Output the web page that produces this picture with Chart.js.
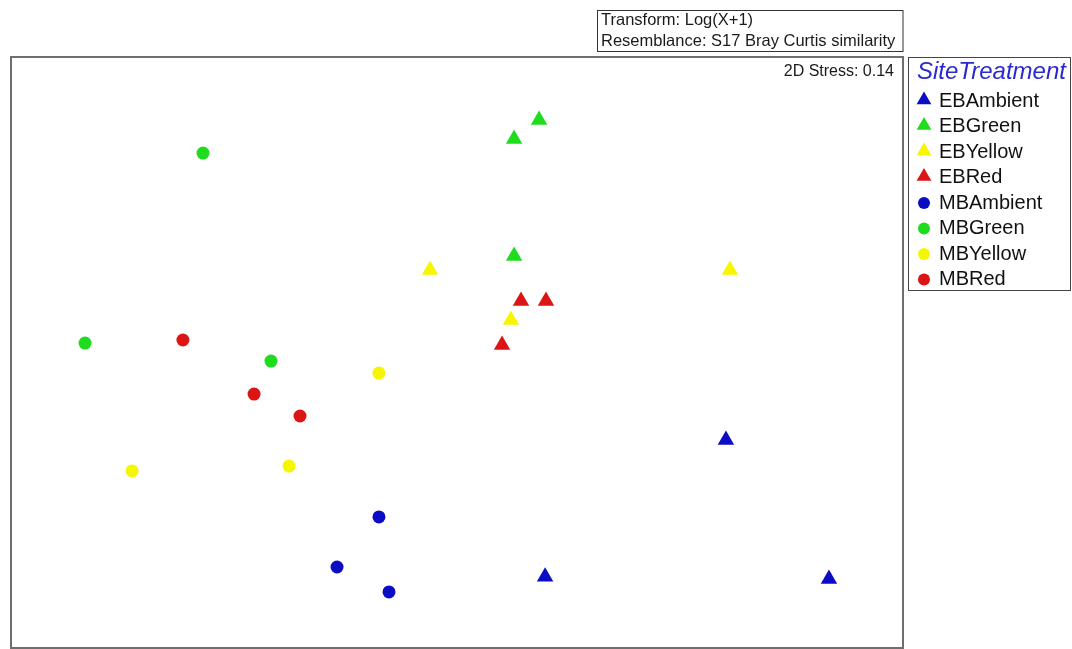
<!DOCTYPE html>
<html>
<head>
<meta charset="utf-8">
<title>SiteTreatment nMDS</title>
<script src="https://cdn.jsdelivr.net/npm/chart.js@4.4.0/dist/chart.umd.min.js"></script>
<style>
    html, body { margin: 0; padding: 0; background: #fff; }
    #wrap { position: relative; width: 1072px; height: 649px; }
</style>
</head>
<body>
<div id="wrap"><canvas id="mdsChart"></canvas></div>
<script>
// nMDS ordination coordinates, one pair of arrays per group
const groups = ['EBAmbient', 'EBGreen', 'EBYellow', 'EBRed', 'MBAmbient', 'MBGreen', 'MBYellow', 'MBRed'];

const ebAmbientX = [1.206, 0.395, 1.668];
const ebAmbientY = [-0.400, -1.025, -1.035];
const ebGreenX = [0.368, 0.256, 0.256];
const ebGreenY = [1.062, 0.975, 0.441];
const ebYellowX = [1.224, -0.121, 0.242];
const ebYellowY = [0.377, 0.377, 0.149];
const ebRedX = [0.287, 0.399, 0.202];
const ebRedY = [0.235, 0.235, 0.034];
const mbAmbientX = [-0.350, -0.538, -0.305];
const mbAmbientY = [-0.751, -0.980, -1.094];
const mbGreenX = [-1.139, -1.668, -0.834];
const mbGreenY = [0.911, 0.043, -0.039];
const mbYellowX = [-0.350, -1.457, -0.753];
const mbYellowY = [-0.094, -0.541, -0.519];
const mbRedX = [-1.229, -0.910, -0.704];
const mbRedY = [0.057, -0.190, -0.290];

const xs = [ebAmbientX, ebGreenX, ebYellowX, ebRedX, mbAmbientX, mbGreenX, mbYellowX, mbRedX];
const ys = [ebAmbientY, ebGreenY, ebYellowY, ebRedY, mbAmbientY, mbGreenY, mbYellowY, mbRedY];

const colours = ['#0c0cc4', '#1fdc1f', '#f6f600', '#dc1414', '#0c0cc4', '#1fdc1f', '#f6f600', '#dc1414'];
const shapes = ['triangle', 'triangle', 'triangle', 'triangle', 'circle', 'circle', 'circle', 'circle'];

const stressLabel = '2D Stress: 0.14';
const infoLines = ['Transform: Log(X+1)', 'Resemblance: S17 Bray Curtis similarity'];
const legendTitle = 'SiteTreatment';

const FONT = '"Liberation Sans", Arial, sans-serif';

const datasets = groups.map(function (name, i) {
    return {
        label: name,
        data: xs[i].map(function (x, j) { return { x: x, y: ys[i][j] }; }),
        pointStyle: shapes[i],
        pointRadius: shapes[i] === 'triangle' ? 9.5 : 6.5,
        pointHoverRadius: shapes[i] === 'triangle' ? 9.5 : 6.5,
        backgroundColor: colours[i],
        borderColor: colours[i],
        borderWidth: 0
    };
});

// small marker used in the legend box
function drawMarker(ctx, shape, x, y, colour) {
    ctx.save();
    ctx.fillStyle = colour;
    ctx.beginPath();
    if (shape === 'triangle') {
        const r = 8.5;
        ctx.moveTo(x, y - r);
        ctx.lineTo(x + Math.sin(2 * Math.PI / 3) * r, y + r / 2);
        ctx.lineTo(x - Math.sin(2 * Math.PI / 3) * r, y + r / 2);
        ctx.closePath();
    } else {
        ctx.arc(x, y + 1, 6, 0, Math.PI * 2);
    }
    ctx.fill();
    ctx.restore();
}

// frames, stress note, info box and legend
const decorations = {
    id: 'decorations',
    beforeDatasetsDraw: function (chart) {
        const ctx = chart.ctx;
        const a = chart.chartArea;
        ctx.save();
        ctx.strokeStyle = '#6e6e6e';
        ctx.lineWidth = 2;
        ctx.strokeRect(a.left, a.top, a.right - a.left, a.bottom - a.top);

        ctx.fillStyle = '#1a1a1a';
        ctx.font = '16px ' + FONT;
        ctx.textAlign = 'right';
        ctx.textBaseline = 'middle';
        ctx.fillText(stressLabel, a.right - 9, a.top + 15);
        ctx.restore();
    },
    afterDraw: function (chart) {
        const ctx = chart.ctx;
        const a = chart.chartArea;
        ctx.save();

        // transform / resemblance box
        ctx.strokeStyle = '#333';
        ctx.lineWidth = 1;
        ctx.strokeRect(597.5, 10.5, a.right - 597.5, 41);
        ctx.fillStyle = '#1a1a1a';
        ctx.font = '16.5px ' + FONT;
        ctx.textAlign = 'left';
        ctx.textBaseline = 'middle';
        ctx.fillText(infoLines[0], 601, 20);
        ctx.fillText(infoLines[1], 601, 41);

        // legend box
        const lx = a.right + 5;
        ctx.strokeStyle = '#444';
        ctx.strokeRect(lx + 0.5, a.top + 0.5, 1071 - lx - 1, 233);
        ctx.fillStyle = '#2a2ad0';
        ctx.font = 'italic 24px ' + FONT;
        ctx.fillText(legendTitle, lx + 9, a.top + 15);

        ctx.font = '20px ' + FONT;
        chart.data.datasets.forEach(function (ds, i) {
            const y = a.top + 43 + i * 25.5;
            drawMarker(ctx, ds.pointStyle, lx + 16, y, ds.backgroundColor);
            ctx.fillStyle = '#111';
            ctx.fillText(ds.label, lx + 31, y + 1);
        });
        ctx.restore();
    }
};

new Chart(document.getElementById('mdsChart').getContext('2d'), {
    type: 'scatter',
    data: { datasets: datasets },
    options: {
        responsive: true,
        maintainAspectRatio: false,
        animation: false,
        layout: { autoPadding: false, padding: { left: 11, top: 57, right: 169, bottom: 1 } },
        scales: {
            x: { type: 'linear', min: -2, max: 2, display: false },
            y: { type: 'linear', min: -1.35, max: 1.35, display: false }
        },
        plugins: {
            legend: { display: false },
            tooltip: { enabled: false }
        }
    },
    plugins: [decorations]
});
</script>
</body>
</html>
